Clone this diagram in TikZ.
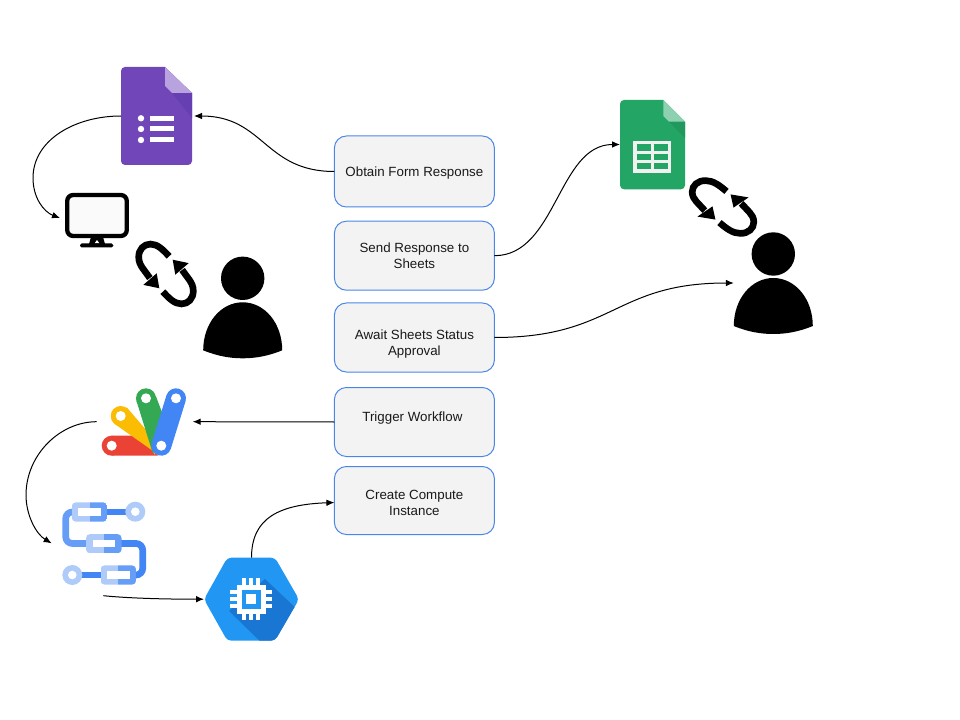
\documentclass[tikz,border=0pt]{standalone}
\usepackage{fontspec}
\setmainfont{Liberation Sans}
\usetikzlibrary{arrows.meta}

\definecolor{boxfill}{HTML}{F3F3F3}
\definecolor{boxline}{HTML}{4A86E8}
\definecolor{formsbody}{HTML}{7046B9}
\definecolor{formsfold}{HTML}{B9A3DE}
\definecolor{formsshade}{HTML}{6640B2}
\definecolor{sheetsbody}{HTML}{23A566}
\definecolor{sheetsfold}{HTML}{8ED1B1}
\definecolor{sheetsshade}{HTML}{20985E}
\definecolor{sheetspaper}{HTML}{F1F1F1}
\definecolor{appsred}{HTML}{EA4335}
\definecolor{appsyellow}{HTML}{FBBC04}
\definecolor{appsgreen}{HTML}{34A853}
\definecolor{appsblue}{HTML}{4285F4}
\definecolor{flowlight}{HTML}{AECBFA}
\definecolor{flowmid}{HTML}{669DF6}
\definecolor{computelight}{HTML}{2196F3}
\definecolor{computedark}{HTML}{1976D2}

% Person: head and shoulders, named by #1, head centre at (#2,#3).
\newcommand{\personicon}[3]{
	\node[iconbox={79}{102}] (#1) at (#2,#3+29) {};
	\begin{scope}[shift={(#2,#3)}]
		\fill (0,0) circle [radius=21.7];
		\fill (-39.5,72) .. controls (-39.5,45) and (-22,24) .. (0,24)
			.. controls (22,24) and (39.5,45) .. (39.5,72)
			.. controls (25,78) and (12,80) .. (0,80)
			.. controls (-12,80) and (-25,78) .. (-39.5,72) -- cycle;
	\end{scope}
}

% Two hooks with arrow heads: centre (#1,#2), width #3, height #4.
\newcommand{\syncicon}[4]{
	\begin{scope}[shift={(#1,#2)},x=#3*0.75pt,y=-#4*0.75pt]
		\foreach \turn in {0,180} {
			\begin{scope}[rotate=\turn]
				\draw[line width=5pt] (0.05,-0.26) .. controls (-0.05,-0.36) and (-0.14,-0.44) .. (-0.25,-0.44)
					.. controls (-0.36,-0.44) and (-0.44,-0.36) .. (-0.44,-0.25)
					.. controls (-0.44,-0.18) and (-0.41,-0.13) .. (-0.38,-0.09) -- (-0.26,0.06);
				\fill (-0.108,0.21) -- (-0.366,0.16) -- (-0.15,-0.01) -- cycle;
			\end{scope}
		}
	\end{scope}
}

\begin{document}
\begin{tikzpicture}
	[
		x=0.75pt,
		y=-0.75pt,
		% Make a style for the rounded step boxes.
		stepbox/.style={draw=boxline, fill=boxfill, line width=0.75pt, rounded corners=9pt,
			minimum width=120pt, minimum height=#1*0.75pt, inner sep=0pt, outer sep=0pt},
		% And one for the words in them.
		steptext/.style={align=center, font=\fontsize{10}{12}\selectfont, inner sep=0pt, text=black!90},
		% An empty node that stands for an icon.
		iconbox/.style 2 args={minimum width=#1*0.75pt, minimum height=#2*0.75pt, inner sep=0pt, outer sep=0pt},
		flow/.style={line width=0.75pt, -{Latex[length=6pt,width=5pt]}}
	]
	\useasboundingbox (0,0) rectangle (960,720);

	% Steps.
	\node[stepbox=71, label={[steptext,yshift=-1.2pt]center:Obtain Form Response}] (obtain) at (414.4,171.5) {};
	\node[stepbox=69, label={[steptext]center:{Send Response to\\Sheets}}] (send) at (414.4,255.7) {};
	\node[stepbox=69, label={[steptext,yshift=-4.8pt]center:{Await Sheets Status\\Approval}}] (await) at (414.4,337.5) {};
	\node[stepbox=69, label={[steptext,xshift=-1.5pt,yshift=2.7pt]center:Trigger Workflow}] (trigger) at (414.4,422) {};
	\node[stepbox=68, label={[steptext,yshift=-1.5pt]center:{Create Compute\\Instance}}] (create) at (414.4,500.5) {};

	% Forms page.
	\node[iconbox={73}{98}] (forms) at (157.5,116) {};
	\fill[formsbody] (165,67) [rounded corners=3pt] -- (121,67) -- (121,165) -- (192,165) [sharp corners] -- (192,93) -- cycle;
	\fill[formsshade] (172,93) -- (192,93) -- (192,118) -- cycle;
	\fill[formsfold] (165,67) -- (192,93) -- (172,93) -- (165,86) -- cycle;
	\foreach \rowy in {118.3,129,140} {
		\fill[white] (141,\rowy) circle [radius=3.2];
		\fill[white] (150,\rowy-2.5) rectangle (174.3,\rowy+2.5);
	}

	% Monitor.
	\node[iconbox={69}{50}] (monitor) at (94.5,218) {};
	\draw[line width=3.2pt, fill=black!2, rounded corners=4.5pt] (67.2,195) rectangle (126.8,236);
	\fill (91,237) -- (103,237) -- (105,244) -- (89,244) -- cycle;
	\fill[white] (97,240) -- (99.5,243.5) -- (94.5,243.5) -- cycle;
	\fill[rounded corners=1.2pt] (80,243.5) rectangle (113.3,247.5);

	\syncicon{166}{274}{62}{68}
	\personicon{user}{242.7}{278.3}

	% Sheets page.
	\node[iconbox={65}{89}] (sheets) at (652.5,144.5) {};
	\fill[sheetsbody] (663.3,100) [rounded corners=3pt] -- (620,100) -- (620,189.3) -- (685,189.3) [sharp corners] -- (685,121.7) -- cycle;
	\fill[sheetsshade] (669,121.7) -- (685,121.7) -- (685,138) -- cycle;
	\fill[sheetsfold] (663.3,100) -- (685,121.7) -- (669,121.7) -- (663.3,116) -- cycle;
	\fill[sheetspaper] (633.3,140.7) rectangle (671,172.7);
	\foreach \rowy in {144.3,153.7,163} {
		\fill[sheetsbody] (637.3,\rowy) rectangle (650.7,\rowy+6.3);
		\fill[sheetsbody] (654.3,\rowy) rectangle (667.7,\rowy+6.3);
	}

	\syncicon{723}{207}{70}{60}
	\personicon{approver}{773.3}{254}

	% Apps Script fan.
	\node[iconbox={96}{68}] (apps) at (144.7,421.7) {};
	\fill[appsred] (111.7,445.7) circle [radius=10];
	\fill[appsred] (111.7,435.7) -- (133.3,435.7) -- (152,449) -- (158,455.7) -- (111.7,455.7) -- cycle;
	\fill[appsyellow] (120.7,416) circle [radius=10];
	\fill[appsyellow] (126.7,407.3) -- (153.3,438.3) -- (155,455) -- (151.7,450) -- (114.3,423.7) -- cycle;
	\fill[appsgreen] (146,398.3) circle [radius=10];
	\fill[appsgreen] (136.5,401) -- (153,454) -- (165,420) -- (155.8,396) -- cycle;
	\draw[appsblue, line width=15pt, line cap=round] (176,398.3) -- (161.3,445.7);
	\foreach \holex/\holey in {111.7/445.7,120.7/416,146/398.3,176/398.3,161.3/445.7}
		\fill[white] (\holex,\holey) circle [radius=5];

	% Workflows chain.
	\node[iconbox={94.3}{83.4}] (workflows) at (98.8,543.3) {};
	\coordinate (workflowsout) at (103.3,595.7);
	\draw[flowmid, line width=5pt, rounded corners=5pt] (75,512) -- (65.7,512) -- (65.7,543.5) -- (90,543.5);
	\draw[appsblue, line width=5pt, rounded corners=5pt] (118,543.5) -- (142.7,543.5) -- (142.7,575) -- (132,575);
	\draw[appsblue, line width=5pt] (105,512) -- (128,512);
	\draw[appsblue, line width=5pt] (80,575) -- (103,575);
	\foreach \ringx/\ringy in {135.3/511.7,72.3/575} {
		\fill[flowlight] (\ringx,\ringy) circle [radius=10];
		\fill[white] (\ringx,\ringy) circle [radius=4.3];
	}
	\foreach \pillx/\pilly in {89.5/512,103.8/543.7,118.3/575} {
		\begin{scope}
			\clip[rounded corners=3pt] (\pillx-17.8,\pilly-9.6) rectangle (\pillx+17.8,\pilly+9.6);
			\fill[flowlight] (\pillx-17.8,\pilly-9.6) rectangle (\pillx,\pilly+9.6);
			\fill[flowmid] (\pillx,\pilly-9.6) rectangle (\pillx+17.8,\pilly+9.6);
		\end{scope}
		\fill[white] (\pillx-11.2,\pilly-3.7) rectangle (\pillx+11.2,\pilly+3.7);
	}

	% Compute hexagon.
	\node[iconbox={95}{83}] (compute) at (251.5,599.2) {};
	\begin{scope}
		\clip[rounded corners=3pt] (204,599.3) -- (227.3,557.7) -- (275,557.7) -- (299,599.3) -- (275,640.7) -- (227.3,640.7) -- cycle;
		\fill[computelight] (200,550) rectangle (305,650);
		\fill[computedark] (265,579) -- (300,612) -- (275,645) -- (264,645) -- (229,611) -- cycle;
	\end{scope}
	\foreach \pin in {-7.3,0,7.3} {
		\fill[white] (251-20.8,599+\pin-1.9) rectangle (251+20.8,599+\pin+1.9);
		\fill[white] (251+\pin-1.9,599-20.8) rectangle (251+\pin+1.9,599+20.8);
	}
	\fill[white] (251-14.5,599-14.5) rectangle (251+14.5,599+14.5);
	\fill[computelight] (251-9.5,599-9.5) rectangle (251+9.5,599+9.5);
	\fill[white] (251-5,599-5) rectangle (251+5,599+5);

	% Connectors.
	\draw[flow] (obtain.west) .. controls +(-70,0) and +(70,0) .. (forms.east);
	\draw[flow] (forms.west) .. controls +(-46,0) and (33,140) .. (33,178) .. controls (33,198) and (44,212) .. (monitor.west);
	\draw[flow] (send.east) .. controls +(62,0) and +(-62,0) .. (sheets.west);
	\draw[flow] (await.east) .. controls +(120,0) and +(-120,0) .. (approver.west);
	\draw[flow] (trigger.west) -- (apps.east);
	\draw[flow] (apps.west) .. controls +(-37,0) and (26,455) .. (26,495) .. controls (26,515) and (36,534) .. (workflows.west);
	\draw[flow] (workflowsout) .. controls +(30,3) and +(-30,0) .. (compute.west);
	\draw[flow] (compute.north) .. controls +(0,-40) and +(-55,2) .. ([yshift=-1.5pt]create.west);
\end{tikzpicture}
\end{document}
